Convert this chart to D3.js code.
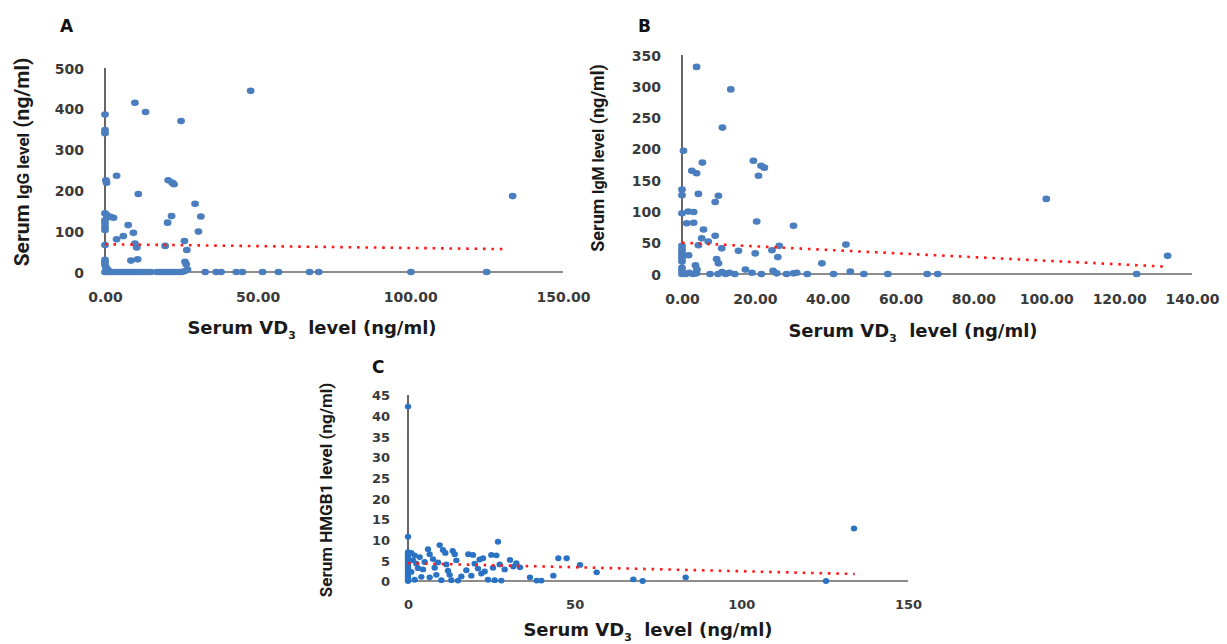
<!DOCTYPE html>
<html>
<head>
<meta charset="utf-8">
<script src="https://cdn.jsdelivr.net/npm/d3@7"></script>
<style>
  body { margin: 0; background: #fff; }
  .tick text { font-family: "DejaVu Sans", Verdana, sans-serif; font-weight: bold; fill: #3a3a3a; }
  .ytitle { font-family: Roboto, "Liberation Sans", sans-serif; font-weight: bold; fill: #1a1a1a; }
  .xtitle { font-family: "DejaVu Sans", Verdana, sans-serif; font-weight: bold; fill: #1a1a1a; }
  .letter { font-family: "DejaVu Sans", Verdana, sans-serif; font-weight: bold; fill: #111; }
</style>
</head>
<body>
<script>
// ---- data (VD3 on x, marker on y) ----
var vdA  = [0,0,0,0.3,0.5,3.8,9.8,13.3,24.9,47.7,10.9,20.7,22,22.6,29.5,31.4,21.8,20.5,30.6,
            0,0.5,1.8,2.8,0,0,0,0,7.6,9.3,6,3.8,9.8,10.4,19.7,26,26.8,0,8.5,10.7,26.2,26.6,
            0,0,0,0.3,0.5,1,0.5,
            0,0.5,1,1.5,2,3,4,5,6,7,8,9,10,11,12,13,14,15,17,18,19,20,21,22,23,24,25,26,27,
            32.8,36.4,38,43,45,51.6,56.8,67,70,100.2,125,133.5];
var igg  = [386,348,340,225,219,236,415,392,370,444,191,225,219,215,167,136,137,121,99,
            144,140,135,133,127,119,110,103,115,96,88,80,70,60,64,76,54,66,28,31,25,19,
            30,24,18,12,8,5,3,
            0,0,1,0,0,0,0,0,0,0,0,0,0,0,0,0,0,0,0,0,0,0,0,0,0,0,0,2,6,
            0,0,0,0,0,0,0,0,0,0,0,186];

var vdB  = [4,13.4,11.1,0.4,5.6,2.7,4,19.6,21.7,22.6,21,0,0,4.5,9.1,10,0,1.7,3.2,1.3,3.2,20.5,30.6,
            5.9,9.1,5.4,7.2,4.5,10.9,15.5,20.1,24.7,26.7,26.3,38.4,45,100,133.3,
            0,0,0,0,0,0,1.8,9.5,10,3.7,4.1,0,0,
            0,1,2,3,4,7.7,9.9,11,12,13,14.5,17.4,19.2,21.8,25,26,28.7,30.6,31.5,34.4,
            41.6,46.2,49.9,56.5,67.3,70.2,124.8];
var igm  = [331,295,234,197,178,165,161,181,173,170,157,135,126,128,115,125,97,100,99,81,82,84,77,
            71,61,57,52,46,41,37,33,38,45,27,17,47,120,29,
            45,40,35,30,25,20,30,24,17,14,7,10,5,
            0,0,2,0,1,0,0,3,0,2,0,7,2,0,5,1,0,1,2,0,
            0,4,0,0,0,0,0];

var vdC  = [0,0,0,0,0,0,0,0,0,0,0,0,0,0,0,0,0,
            1,2,1.5,2.5,3,1,4,2,3.5,5,4.5,
            6,6.5,7.5,8,6.5,9.5,10.5,11.2,11.5,12,12.5,13.4,14,14.5,9,10,13,15,16,8.5,
            18.1,19.5,20,21,22,22.5,23,24,25,26.5,27,27.5,28,19,17.5,25.5,21.5,26,29,
            30.6,31.6,33.6,32.5,36.6,38.6,40,43.6,45.1,47.6,51.6,56.6,
            67.6,70.4,83.3,125.4,133.8];
var hmgb1 = [42.2,10.7,7,6.5,6,5.5,5,4.5,4,3.5,3,2.5,2,1.5,1,0.5,0,
            6.8,6.2,5,4.2,3.1,2.2,1,0.3,5.8,4.6,2.8,
            7.7,6.5,5.3,3.2,0.9,8.7,7.5,6.8,4,2.5,1.5,7.3,6.5,5,4.5,0.2,0.2,0.1,1.1,1.5,
            6.5,6.3,4.2,3,1.8,5.5,2.3,0.3,6.3,6.2,9.5,4,0.1,1.3,2.6,3.2,5.2,0.2,2.8,
            5.1,3.5,3.3,4.3,0.9,0.1,0.1,1.3,5.5,5.5,3.9,2.1,
            0.4,0,0.9,0,12.7];

// trendline ends [x0, x1] / [y0, y1]
var trendAx = [0, 131.7], trendAy = [68, 56];
var trendBx = [0, 132],   trendBy = [50, 12];
var trendCx = [0, 134],   trendCy = [4.3, 1.7];

// tick labels
var xTicksA = [0, 50, 100, 150];
var yTicksA = [0, 100, 200, 300, 400, 500];
var xTicksB = [0, 20, 40, 60, 80, 100, 120, 140];
var yTicksB = [0, 50, 100, 150, 200, 250, 300, 350];
var xTicksC = [0, 50, 100, 150];
var yTicksC = [0, 5, 10, 15, 20, 25, 30, 35, 40, 45];

var svg = d3.select("body").append("svg").attr("width", 1227).attr("height", 644);

function drawPanel(p) {
  var x = d3.scaleLinear().domain(p.xdom).range(p.xr);
  var y = d3.scaleLinear().domain(p.ydom).range(p.yr);
  var g = svg.append("g");

  // axis lines
  g.append("line").attr("x1", x(0)).attr("x2", x(p.xdom[1])).attr("y1", y(0)).attr("y2", y(0))
    .attr("stroke", "#8c8c8c").attr("stroke-width", 2);
  g.append("line").attr("x1", x(0)).attr("x2", x(0)).attr("y1", y(0)).attr("y2", y(p.ydom[1]))
    .attr("stroke", "#555").attr("stroke-width", 1.8);

  var xa = g.append("g").attr("transform", "translate(0," + (y(0) + p.xlabOff) + ")")
    .call(d3.axisBottom(x).tickValues(p.xticks).tickFormat(p.xfmt).tickSize(0));
  xa.select(".domain").remove();
  xa.selectAll("text").style("font-size", p.tickFont + "px");

  var ya = g.append("g").attr("transform", "translate(" + (x(0) - p.ylabOff) + ",0)")
    .call(d3.axisLeft(y).tickValues(p.yticks).tickSize(0));
  ya.select(".domain").remove();
  ya.selectAll("text").style("font-size", p.tickFont + "px").attr("dy", "0.36em");

  // scatter
  g.selectAll("ellipse.pt").data(p.xs).enter().append("ellipse")
    .attr("class", "pt")
    .attr("cx", function(d) { return x(d); })
    .attr("cy", function(d, i) { return y(p.ys[i]); })
    .attr("rx", p.rx).attr("ry", p.ry)
    .attr("fill", p.color);

  // linear trendline, red dots
  g.append("line")
    .attr("x1", x(p.tx[0])).attr("y1", y(p.ty[0]))
    .attr("x2", x(p.tx[1])).attr("y2", y(p.ty[1]))
    .attr("stroke", "#ff1a1a").attr("stroke-width", 2.6)
    .attr("stroke-dasharray", "2.6,5.8");

  // titles
  var xt = g.append("text").attr("class", "xtitle")
    .attr("x", p.xtPos[0]).attr("y", p.xtPos[1])
    .attr("text-anchor", "middle").style("font-size", p.xtFont + "px");
  xt.append("tspan").text("Serum VD");
  xt.append("tspan").text("3").attr("dy", 5).style("font-size", (p.xtFont * 0.6) + "px");
  xt.append("tspan").attr("dy", -5).text("\u00a0 level (ng/ml)");

  var yt = g.append("text").attr("class", "ytitle")
    .attr("transform", "translate(" + p.ytPos[0] + "," + p.ytPos[1] + ") rotate(-90)")
    .attr("text-anchor", "middle");
  p.ytParts.forEach(function(part) {
    yt.append("tspan").text(part[0]).style("font-size", part[1] + "px");
  });

  g.append("text").attr("class", "letter")
    .attr("x", p.letterPos[0]).attr("y", p.letterPos[1])
    .style("font-size", "17px").text(p.letter);
}

drawPanel({
  xs: vdA, ys: igg, xdom: [0, 150], ydom: [0, 500], xr: [105, 563], yr: [272, 68],
  xticks: xTicksA, yticks: yTicksA, xfmt: d3.format(".2f"), tickFont: 14,
  xlabOff: 17, ylabOff: 18, rx: 3.9, ry: 3.3, color: "#4a7ebf",
  tx: trendAx, ty: trendAy,
  xtPos: [312, 334], xtFont: 18, ytPos: [29, 162],
  ytParts: [["Serum ", 21], ["IgG level", 17], [" (ng/ml)", 21]],
  letter: "A", letterPos: [60, 32]
});

drawPanel({
  xs: vdB, ys: igm, xdom: [0, 140], ydom: [0, 350], xr: [682, 1192], yr: [274, 55],
  xticks: xTicksB, yticks: yTicksB, xfmt: d3.format(".2f"), tickFont: 14,
  xlabOff: 17, ylabOff: 18, rx: 3.9, ry: 3.3, color: "#4a7ebf",
  tx: trendBx, ty: trendBy,
  xtPos: [913, 337], xtFont: 18, ytPos: [604, 158],
  ytParts: [["Serum ", 18], ["IgM level", 16], [" (ng/ml)", 18]],
  letter: "B", letterPos: [638, 32]
});

drawPanel({
  xs: vdC, ys: hmgb1, xdom: [0, 150], ydom: [0, 45], xr: [408, 908], yr: [581, 395],
  xticks: xTicksC, yticks: yTicksC, xfmt: d3.format("d"), tickFont: 13,
  xlabOff: 16, ylabOff: 15, rx: 3.2, ry: 2.9, color: "#2a72c4",
  tx: trendCx, ty: trendCy,
  xtPos: [648, 636], xtFont: 18, ytPos: [332, 490],
  ytParts: [["Serum HMGB1 level (ng/ml)", 17]],
  letter: "C", letterPos: [372, 373]
});
</script>
</body>
</html>
